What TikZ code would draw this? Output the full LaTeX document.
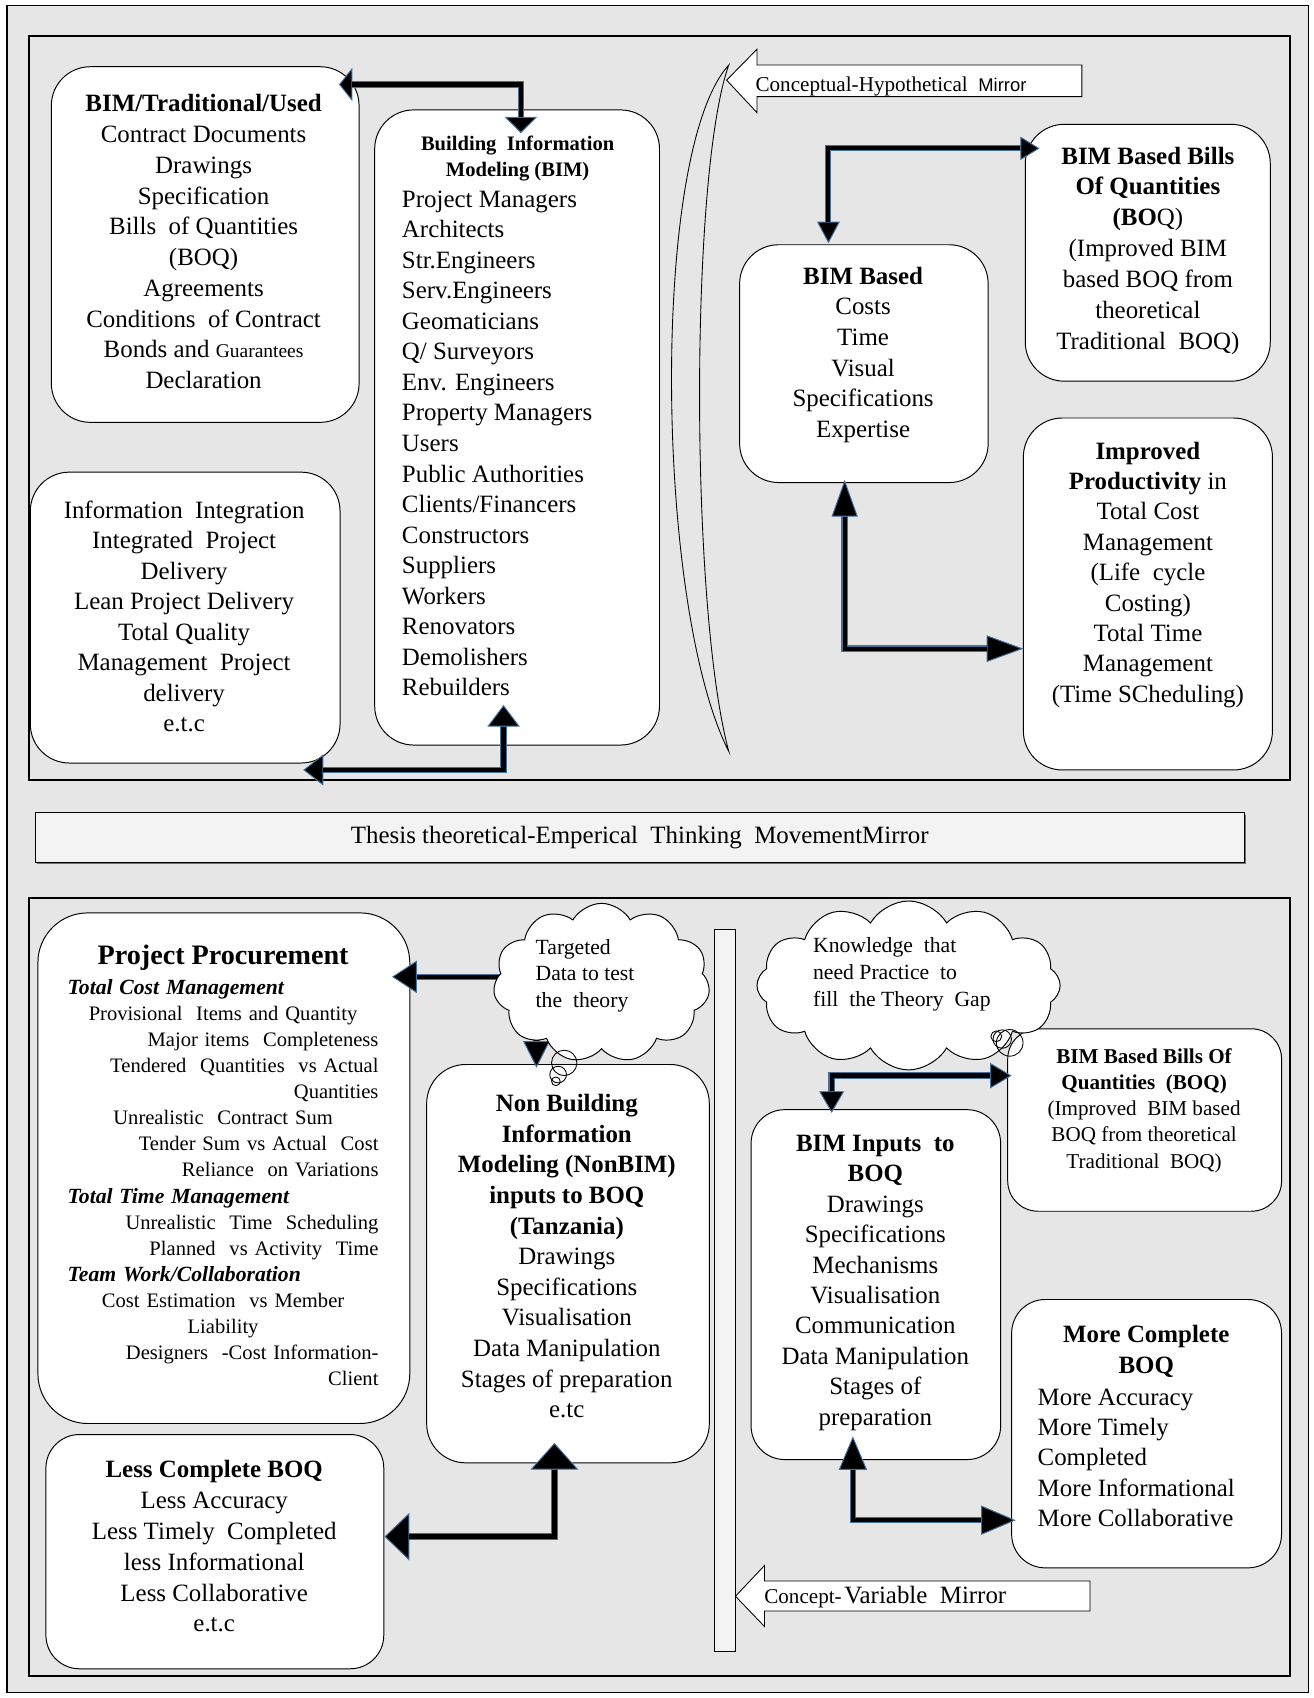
\documentclass[tikz,border=0pt]{standalone}
\usepackage{fontspec}
\setmainfont{Liberation Serif}
\setsansfont{Liberation Sans}
\usetikzlibrary{arrows.meta,shapes.symbols,calc}
\definecolor{panelgray}{RGB}{230,230,230}
\definecolor{bandgray}{RGB}{243,243,243}
\definecolor{edgeblue}{RGB}{65,113,156}
\newcommand{\setfs}[2]{\fontsize{#1}{#2}\selectfont}
% thick connector: blue rim, black core, two filled heads
\newcommand{\boldlink}[7]{%
  \draw[linkouter, line width=#6pt,
    {Triangle[length=#1pt,width=#2pt,fill=black,line width=0.9pt]}-{Triangle[length=#3pt,width=#4pt,fill=black,line width=0.9pt]}] #5;
  \draw[linkinner, line width=#7pt, shorten <=#1pt, shorten >=#3pt] #5;}
% same with a single head at the end
\newcommand{\boldray}[5]{%
  \draw[linkouter, line width=#4pt,
    -{Triangle[length=#1pt,width=#2pt,fill=black,line width=0.9pt]}] #3;
  \draw[linkinner, line width=#5pt, shorten >=#1pt] #3;}
% one line of the procurement list, aligned left / centre / right
\newcommand{\ppL}[1]{\makebox[\linewidth][l]{#1}\par}
\newcommand{\ppC}[1]{\makebox[\linewidth][c]{#1}\par}
\newcommand{\ppR}[1]{\makebox[\linewidth][r]{#1}\par}
\newcommand{\ppHead}{\setfs{20}{24.1}\bfseries\itshape}
\begin{document}
\begin{tikzpicture}[x=1pt,y=-1pt,
  rbox/.style={draw=black, line width=0.9pt, fill=white, rounded corners=36pt, inner sep=0pt, outer sep=0pt},
  rboxs/.style={rbox, rounded corners=31pt},
  tx/.style={inner sep=0pt, align=center, font=\setfs{23}{28.2}},
  linkouter/.style={draw=edgeblue, line join=miter},
  linkinner/.style={draw=black, line join=miter},
  thoughtcloud/.style={cloud, cloud puffs=11, cloud puff arc=120, cloud ignores aspect,
    draw=black, line width=0.9pt, fill=white, inner sep=0pt, outer sep=0pt},
  bubble/.style={draw=black, line width=0.8pt},
  blockarrow/.style={draw=black, line width=0.8pt, fill=white},
  frame/.style={draw=black, line width=2pt},
]
\useasboundingbox (0,0) rectangle (1213,1568);
\fill[white] (0,0) rectangle (1213,1568);
\draw[line width=1pt, fill=panelgray] (6.5,4.8) rectangle (1208,1563);

% panels
\draw[frame] (27,33) rectangle (1191,720);
\draw[frame] (27,829) rectangle (1191,1548);
\fill[black!55] (34.5,752.5) rectangle (1150.5,798);
\node[draw=black, line width=0.9pt, fill=bandgray, minimum width=1116.5pt, minimum height=45.6pt,
  inner sep=0pt, font=\setfs{23}{24}] (banner) at (590.75,773.5)
  {Thesis theoretical-Emperical\ \ Thinking\ \ MovementMirror};

% conceptual mirror (lens) and its pointer
\draw[line width=0.8pt] (673,60) .. controls (600,140) and (605,560) .. (673,694)
  .. controls (637,560) and (637,160) .. (673,60) -- cycle;
\draw[blockarrow] (671,74) -- (699,45.5) -- (699,60) -- (999,60) -- (999,89.2)
  -- (699,89.2) -- (699,104) -- cycle;

% concept-variable mirror bar and its pointer
\draw[line width=0.8pt, fill=bandgray] (659.7,858) rectangle (679,1524.7);
\draw[blockarrow] (679.2,1474) -- (706,1445.6) -- (706,1460) -- (1006.5,1460)
  -- (1006.5,1487.7) -- (706,1487.7) -- (706,1502) -- cycle;

% boxes, upper panel
\node[rbox, minimum width=284.2pt, minimum height=328.4pt] (bimtrad) at (189.5,225.8) {};
\node[rbox, minimum width=263pt, minimum height=586.5pt] (bim) at (477.5,394.75) {};
\node[rbox, minimum width=286pt, minimum height=268.6pt] (info) at (171,570.3) {};
\node[rbox, minimum width=229.5pt, minimum height=219.6pt] (bbased) at (797.75,335.8) {};
\node[rbox, minimum width=226.2pt, minimum height=237.2pt] (boqtop) at (1059.9,233.4) {};
\node[rbox, minimum width=230pt, minimum height=325pt] (impr) at (1060,548.5) {};

% boxes, lower panel
\node[rbox, rounded corners=46pt, minimum width=343.4pt, minimum height=471.5pt] (ppbox) at (206.7,1078.75) {};
\node[rbox, minimum width=261pt, minimum height=367.8pt] (nonbim) at (524.5,1166.9) {};
\node[rboxs, minimum width=312pt, minimum height=216.3pt] (lessbox) at (198.4,1432.85) {};
\node[rboxs, rounded corners=28pt, minimum width=252.9pt, minimum height=168.5pt] (boqbot) at (1057,1034.25) {};
\node[rboxs, minimum width=230.4pt, minimum height=323.1pt] (binp) at (808.8,1186.25) {};
\node[rboxs, minimum width=249.2pt, minimum height=247.8pt] (more) at (1058.8,1323.9) {};

% connector end points
\coordinate (a1s) at ($(bimtrad.north east)+(-18.6,16.4)$);
\coordinate (a1e) at ($(bim.north)+(3.5,21.5)$);
\coordinate (a2s) at ($(bim.south)+(-12.5,-37)$);
\coordinate (a2e) at ($(info.south east)+(-34,6.4)$);
\coordinate (a3s) at ($(bbased.north)+(-32.75,-1.3)$);
\coordinate (a3e) at ($(boqtop.north west)+(13.2,22.2)$);
\coordinate (a4s) at ($(bbased.south)+(-17.75,-2.6)$);
\coordinate (a4e) at ($(impr.west)+(0,50.5)$);
\coordinate (b1s) at (480.5,902);
\coordinate (b1e) at ($(ppbox.north east)+(-16.4,59)$);
\coordinate (b2s) at ($(nonbim.north)+(-29.1,-33)$);
\coordinate (b2e) at ($(nonbim.north)+(-29.1,3)$);
\coordinate (b3s) at ($(nonbim.south)+(-12.5,-18.4)$);
\coordinate (b3e) at ($(lessbox.east)+(0.6,-13.85)$);
\coordinate (b4s) at ($(binp.north)+(-40.8,3)$);
\coordinate (b4e) at ($(boqbot.north west)+(3.7,43.3)$);
\coordinate (b5s) at ($(binp.south)+(-21.2,-21.5)$);
\coordinate (b5e) at ($(more.west)+(3.8,79.9)$);

% connectors
\boldlink{12.4}{31}{15}{30}{(a1s) -| (a1e)}{6}{4}
\boldlink{20}{30}{18.5}{28.6}{(a2s) |- (a2e)}{6}{4}
\boldlink{20}{21}{17.7}{21.5}{(a3s) |- (a3e)}{5.5}{3.6}
\boldlink{34}{24}{34}{24.6}{(a4s) |- (a4e)}{6}{4}
\boldray{23}{30}{(b1s) -- (b1e)}{6}{4}
\boldray{24.6}{24.6}{(b2s) -- (b2e)}{6}{4}
\boldlink{24.6}{44}{23}{44}{(b3s) |- (b3e)}{7}{5}
\boldlink{20}{23}{20}{23.5}{(b4s) |- (b4e)}{6}{4}
\boldlink{31}{26}{32}{27}{(b5s) |- (b5e)}{6}{4}

% thought clouds
\node[thoughtcloud, minimum width=200pt, minimum height=147pt] (tcloud) at (555.5,907.7) {};
\node[thoughtcloud, cloud puffs=12, minimum width=280pt, minimum height=156pt] (kcloud) at (839,910) {};
\draw[bubble] (521,981.5) circle[radius=11.7pt];
\draw[bubble] (515.4,992.3) circle[radius=7.7pt];
\draw[bubble] (513.3,998.5) circle[radius=4pt];
\draw[bubble] (920,957) circle[radius=5pt];
\draw[bubble] (925.5,959.5) circle[radius=8.5pt];
\draw[bubble] (932.4,963) circle[radius=12.3pt];

% texts, upper panel
\node[tx, font=\setfs{23}{28.4}] (bimtradtxt) at (188,223.2)
  {\textbf{BIM/Traditional/Used}\\Contract Documents\\Drawings\\Specification\\Bills\ \ of Quantities\\(BOQ)\\Agreements\\Conditions\ \ of Contract\\Bonds and {\setfs{18}{28.4}Guarantees}\\Declaration};
\node[tx, font=\setfs{19}{24.5}\bfseries] (bimtitle) at (478,146.25)
  {Building\ \ Information\\Modeling (BIM)};
\node[tx, align=left, anchor=west] (bimlist) at (371,409.4)
  {Project Managers\\Architects\\Str.Engineers\\Serv.Engineers\\Geomaticians\\Q/ Surveyors\\Env. Engineers\\Property Managers\\Users\\Public Authorities\\Clients/Financers\\Constructors\\Suppliers\\Workers\\Renovators\\Demolishers\\Rebuilders};
\node[tx, font=\setfs{23}{28.1}] (infotxt) at (170,569.25)
  {Information\ \ Integration\\Integrated\ \ Project\\Delivery\\Lean Project Delivery\\Total Quality\\Management\ \ Project\\delivery\\e.t.c};
\node[tx, font=\setfs{23}{28.3}] (bbasedtxt) at (797,327.75)
  {\textbf{BIM Based}\\Costs\\Time\\Visual\\Specifications\\Expertise};
\node[tx, font=\setfs{23}{28.45}] (boqtoptxt) at (1060,231.4)
  {\textbf{BIM Based Bills}\\\textbf{Of Quantities}\\\textbf{(BO}Q)\\(Improved BIM\\based BOQ from\\theoretical\\Traditional\ \ BOQ)};
\node[tx, font=\setfs{23}{28.06}] (imprtxt) at (1060,530.75)
  {\textbf{Improved}\\\textbf{Productivity} in\\Total Cost\\Management\\(Life\ \ cycle\\Costing)\\Total Time\\Management\\(Time SCheduling)};
\node[anchor=west, inner sep=0pt, font=\setfs{19.5}{20}] (mirrortxt) at (697.5,79.4)
  {Conceptual-Hypothetical\ \ {\sffamily\setfs{17}{20}Mirror}};

% texts, lower panel
\node[inner sep=0pt, font=\setfs{26}{30}\bfseries] (pptitle) at (206,884.5) {Project Procurement};
\node[inner sep=0pt, text width=287pt, font=\setfs{19}{24.1}] (ppbody) at (206,1092) {%
  \ppL{\ppHead Total Cost Management}
  \ppC{Provisional\ \ Items and Quantity}
  \ppR{Major items\ \ Completeness}
  \ppR{Tendered\ \ Quantities\ \ vs Actual}
  \ppR{Quantities}
  \ppC{Unrealistic\ \ Contract Sum}
  \ppR{Tender Sum vs Actual\ \ Cost}
  \ppR{Reliance\ \ on Variations}
  \ppL{\ppHead Total Time Management}
  \ppR{Unrealistic\ \ Time\ \ Scheduling}
  \ppR{Planned\ \ vs Activity\ \ Time}
  \ppL{\ppHead Team Work/Collaboration}
  \ppC{Cost Estimation\ \ vs Member}
  \ppC{Liability}
  \ppR{Designers\ \ -Cost Information-}
  \ppR{Client}};
\node[anchor=west, inner sep=0pt, align=left, font=\setfs{20}{24.5}] (ttxt) at (494.5,900.7)
  {Targeted\\Data to test\\the\ \ theory};
\node[anchor=west, inner sep=0pt, align=left, font=\setfs{20}{24.85}] (ktxt) at (750.7,899.9)
  {Knowledge\ \ that\\need Practice\ \ to\\fill\ \ the Theory\ \ Gap};
\node[tx, font=\setfs{23}{28.3}] (nonbimtxt) at (523.4,1160)
  {\textbf{Non Building}\\\textbf{Information}\\\textbf{Modeling (NonBIM)}\\\textbf{inputs to BOQ}\\\textbf{(Tanzania)}\\Drawings\\Specifications\\Visualisation\\Data Manipulation\\Stages of preparation\\e.tc};
\node[tx, font=\setfs{23}{28.4}] (lesstxt) at (197.8,1428)
  {\textbf{Less Complete BOQ}\\Less Accuracy\\Less Timely\ \ Completed\\less Informational\\Less Collaborative\\e.t.c};
\node[tx, font=\setfs{19.5}{24.25}] (boqbottxt) at (1056.5,1025.5)
  {\textbf{BIM Based Bills Of}\\\textbf{Quantities\ \ (BOQ)}\\(Improved\ \ BIM based\\BOQ from theoretical\\Traditional\ \ BOQ)};
\node[tx, font=\setfs{23}{28.1}] (binptxt) at (808.3,1184.5)
  {\textbf{BIM Inputs\ \ to}\\\textbf{BOQ}\\Drawings\\Specifications\\Mechanisms\\Visualisation\\Communication\\Data Manipulation\\Stages of\\preparation};
\node[tx, font=\setfs{23}{28}\bfseries] (moretitle) at (1058.5,1248) {More Complete\\BOQ};
\node[tx, align=left, anchor=west, font=\setfs{23}{28.1}] (morelist) at (958,1346.25)
  {More Accuracy\\More Timely\\Completed\\More Informational\\More Collaborative};
\node[anchor=west, inner sep=0pt] (cvtxt) at (705.6,1475)
  {{\setfs{19.5}{20}Concept-} {\setfs{23}{24}Variable\ \ Mirror}};
\end{tikzpicture}
\end{document}
